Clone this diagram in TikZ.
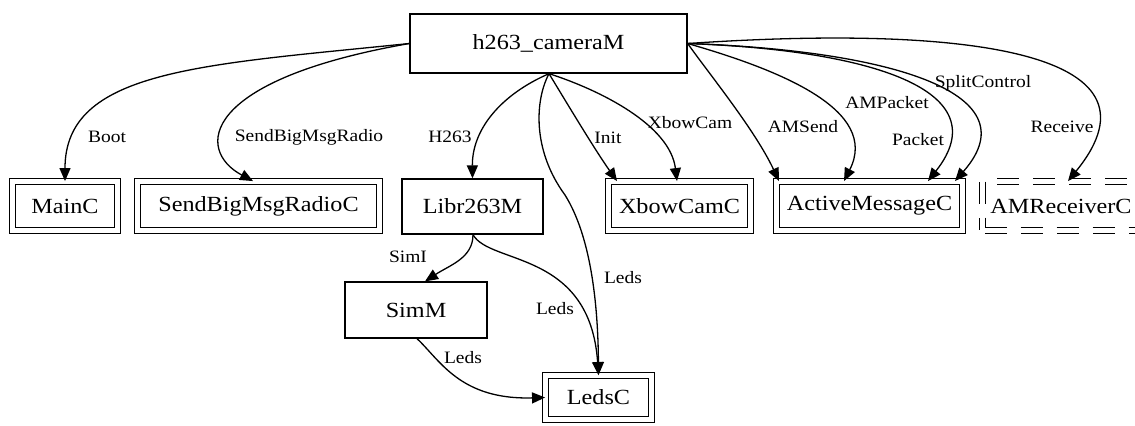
\documentclass[tikz,border=0pt]{standalone}
\usepackage{fontspec}
\setmainfont[FakeStretch=1.12]{Liberation Serif}
\usepackage{tikz}
\usetikzlibrary{arrows.meta}
\usetikzlibrary{calc}
\tikzset{>={Triangle[length=6.5pt,width=5.5pt]}}
\tikzset{
    module/.style={draw, rectangle, line width=0.65pt, inner sep=2pt, font=\fontsize{10.8}{13}\selectfont},
    config/.style={module, double, double distance=2.4pt, minimum height=24.3pt},
    genconfig/.style={config, dash pattern=on 11pt off 7pt, dash phase=17.1pt},
    wire/.style={->, line width=0.65pt},
    wirelabel/.style={inner sep=1pt, font=\fontsize{8.7}{10}\selectfont}
}

\begin{document}
\begin{tikzpicture}[x=0.5pt, y=-0.5pt]
            \useasboundingbox (0, 0) rectangle (1135, 425);
            \node[module, minimum width=138.5pt, minimum height=29.5pt] (cam) at (548.5, 43.5) {h263\_cameraM};
            \node[config, minimum width=52.3pt] (mainc) at (65, 206) {MainC};
            \node[config, minimum width=120.8pt] (radioc) at (258.5, 206) {SendBigMsgRadioC};
            \node[module, minimum width=70.5pt, minimum height=27.5pt] (librm) at (472.5, 206.5) {Libr263M};
            \node[config, minimum width=70.8pt] (xbowc) at (679.5, 206) {XbowCamC};
            \node[config, minimum width=92.8pt] (amc) at (869.5, 206) {ActiveMessageC};
            \node[genconfig, minimum width=78.3pt] (amrc) at (1061, 206) {AMReceiverC};
            \node[module, minimum width=71pt, minimum height=28pt] (simm) at (416, 310) {SimM};
            \node[config, minimum width=52.8pt, minimum height=21.8pt] (ledsc) at (598.5, 397.5) {LedsC};
            \draw[wire] (cam.west) .. controls (200, 65) and (65, 70) .. (mainc.north);
            \draw[wire] (cam.west) .. controls (200, 80) and (195, 150) .. (253, 0 |- radioc.north);
            \draw[wire] (549, 0 |- cam.south) .. controls (500, 95) and (472, 130) .. (librm.north);
            \draw[wire] (549, 0 |- cam.south) .. controls (535, 100) and (532, 150) .. (565, 195) .. controls (590, 235) and (598, 300) .. (ledsc.north);
            \draw[wire] (549, 0 |- cam.south) .. controls (565, 100) and (595, 150) .. (617, 0 |- xbowc.north);
            \draw[wire] (549, 0 |- cam.south) .. controls (600, 90) and (670, 125) .. (677, 0 |- xbowc.north);
            \draw[wire] (cam.east) .. controls (710, 75) and (755, 130) .. (779, 0 |- amc.north);
            \draw[wire] (cam.east) .. controls (780, 70) and (880, 110) .. (844, 0 |- amc.north);
            \draw[wire] (cam.east) .. controls (870, 50) and (1000, 90) .. (928, 0 |- amc.north);
            \draw[wire] (cam.east) .. controls (880, 50) and (1035, 90) .. (955, 0 |- amc.north);
            \draw[wire] (cam.east) .. controls (960, 25) and (1175, 50) .. (1068, 0 |- amrc.north);
            \draw[wire] (473, 0 |- librm.south) .. controls (473, 258) and (450, 265) .. (425, 0 |- simm.north);
            \draw[wire] (473, 0 |- librm.south) .. controls (490, 265) and (590, 250) .. (ledsc.north);
            \draw[wire] (417, 0 |- simm.south) .. controls (440, 360) and (460, 400) .. (ledsc.west);
            \node[wirelabel] (lboot) at (107, 137) {Boot};
            \node[wirelabel] (lradio) at (309, 137) {SendBigMsgRadio};
            \node[wirelabel] (lh263) at (450, 137) {H263};
            \node[wirelabel] (linit) at (608, 138) {Init};
            \node[wirelabel] (lxbow) at (690, 123) {XbowCam};
            \node[wirelabel] (lamsend) at (803, 127) {AMSend};
            \node[wirelabel] (lampacket) at (887, 103) {AMPacket};
            \node[wirelabel] (lpacket) at (918, 140) {Packet};
            \node[wirelabel] (lsplit) at (983, 83) {SplitControl};
            \node[wirelabel] (lreceive) at (1062, 127) {Receive};
            \node[wirelabel] (lsimi) at (408, 257) {SimI};
            \node[wirelabel] (lledsa) at (623, 278) {Leds};
            \node[wirelabel] (lledsb) at (555, 309) {Leds};
            \node[wirelabel] (lledsc) at (463, 358) {Leds};
\end{tikzpicture}
\end{document}
